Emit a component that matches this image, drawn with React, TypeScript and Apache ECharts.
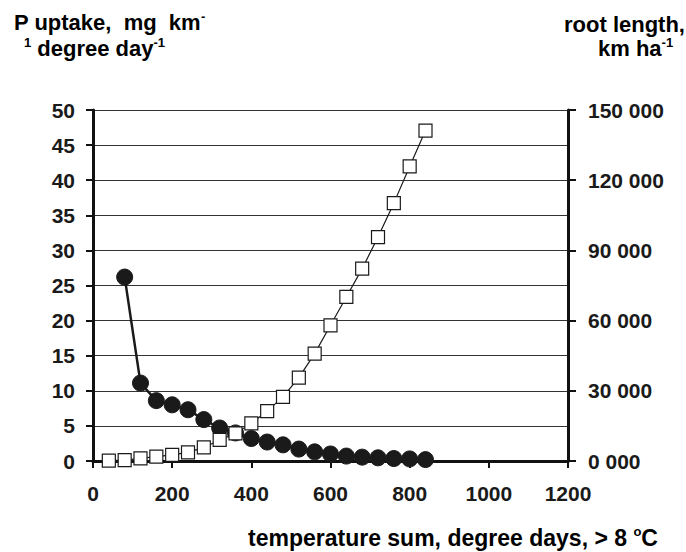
import React, { useEffect, useRef } from "react";
import * as echarts from "echarts";

const tempSumRoot = [40, 80, 120, 160, 200, 240, 280, 320, 360, 400, 440, 480, 520, 560, 600, 640, 680, 720, 760, 800, 840];
const rootLength = [200, 400, 1100, 1850, 2600, 3700, 5800, 9000, 11800, 16100, 21300, 27400, 35600, 45900, 58000, 70100, 82200, 95700, 110200, 125900, 141200];
const tempSumP = [80, 120, 160, 200, 240, 280, 320, 360, 400, 440, 480, 520, 560, 600, 640, 680, 720, 760, 800, 840];
const pUptake = [26.2, 11.1, 8.6, 8.0, 7.3, 5.9, 4.7, 4.0, 3.2, 2.7, 2.3, 1.7, 1.3, 1.0, 0.7, 0.55, 0.45, 0.35, 0.3, 0.2];
const xTicks = [0, 200, 400, 600, 800, 1000, 1200];
const rightTicks = ["0 000", "30 000", "60 000", "90 000", "120 000", "150 000"];

const FONT = "'Liberation Sans', Arial, sans-serif";
const TXT = "#1a1a1a";

export default function App() {
  const ref = useRef<HTMLDivElement>(null);
  useEffect(() => {
    if (!ref.current) return;
    const chart = echarts.init(ref.current, null, { renderer: "svg" });
    const sup = { fontSize: 13, fontWeight: "bold", fontFamily: FONT, color: TXT, verticalAlign: "top", padding: [0, 0, 12, 0] };
    const base = { fontSize: 22, fontWeight: "bold", fontFamily: FONT, color: TXT };
    const tick = { fontSize: 21, fontWeight: "bold", fontFamily: FONT, color: TXT };
    chart.setOption({
      animation: false,
      backgroundColor: "#ffffff",
      grid: { left: 93, right: 118, top: 110, bottom: 91, containLabel: false },
      xAxis: {
        type: "value",
        min: 0,
        max: 1200,
        interval: 200,
        axisLine: { show: true, lineStyle: { color: "#111", width: 3 } },
        axisTick: { show: true, length: 7, lineStyle: { color: "#111", width: 2 } },
        axisLabel: {
          margin: 22,
          ...tick,
          formatter: (v: number) => (xTicks.includes(v) ? String(v) : ""),
        },
        splitLine: { show: false },
      },
      yAxis: [
        {
          type: "value",
          min: 0,
          max: 50,
          interval: 5,
          position: "left",
          axisLine: { show: true, lineStyle: { color: "#111", width: 3 } },
          axisTick: { show: true, length: 7, lineStyle: { color: "#111", width: 2 } },
          axisLabel: { margin: 18, ...tick },
          splitLine: { show: true, lineStyle: { color: "#333", width: 1 } },
        },
        {
          type: "value",
          min: 0,
          max: 150000,
          interval: 30000,
          position: "right",
          axisLine: { show: true, lineStyle: { color: "#111", width: 3 } },
          axisTick: { show: true, length: 8, lineStyle: { color: "#111", width: 2 } },
          axisLabel: {
            margin: 20,
            ...tick,
            formatter: (v: number) => rightTicks[Math.round(v / 30000)] ?? "",
          },
          splitLine: { show: false },
        },
      ],
      series: [
        {
          name: "P uptake",
          type: "line",
          yAxisIndex: 0,
          data: tempSumP.map((x, i) => [x, pUptake[i]]),
          symbol: "circle",
          symbolSize: 16,
          itemStyle: { color: "#1a1a1a", borderColor: "#1a1a1a", borderWidth: 1 },
          lineStyle: { color: "#1a1a1a", width: 2.5 },
          z: 2,
        },
        {
          name: "root length",
          type: "line",
          yAxisIndex: 1,
          data: tempSumRoot.map((x, i) => [x, rootLength[i]]),
          symbol: "rect",
          symbolSize: 13,
          itemStyle: { color: "#ffffff", borderColor: "#1a1a1a", borderWidth: 1.2 },
          lineStyle: { color: "#1a1a1a", width: 1.2 },
          z: 3,
        },
      ],
      graphic: [
        {
          type: "text",
          x: 14,
          y: 35,
          style: { text: "P uptake,  mg  km{sup|-}", rich: { sup }, ...base, verticalAlign: "bottom" },
        },
        {
          type: "text",
          x: 24,
          y: 61,
          style: { text: "{sup|1} degree day{sup|-1}", rich: { sup }, ...base, verticalAlign: "bottom" },
        },
        {
          type: "text",
          x: 564,
          y: 35,
          style: { text: "root length,", ...base, verticalAlign: "bottom" },
        },
        {
          type: "text",
          x: 598,
          y: 61,
          style: { text: "km ha{sup|-1}", rich: { sup }, ...base, verticalAlign: "bottom" },
        },
        {
          type: "text",
          x: 248,
          y: 550,
          style: { text: "temperature sum, degree days, > 8 {sup|o}C", rich: { sup }, ...base, fontSize: 23, verticalAlign: "bottom" },
        },
      ],
    });
    return () => chart.dispose();
  }, []);
  return <div ref={ref} style={{ width: 686, height: 552, position: "absolute", left: 0, top: 0 }} />;
}
